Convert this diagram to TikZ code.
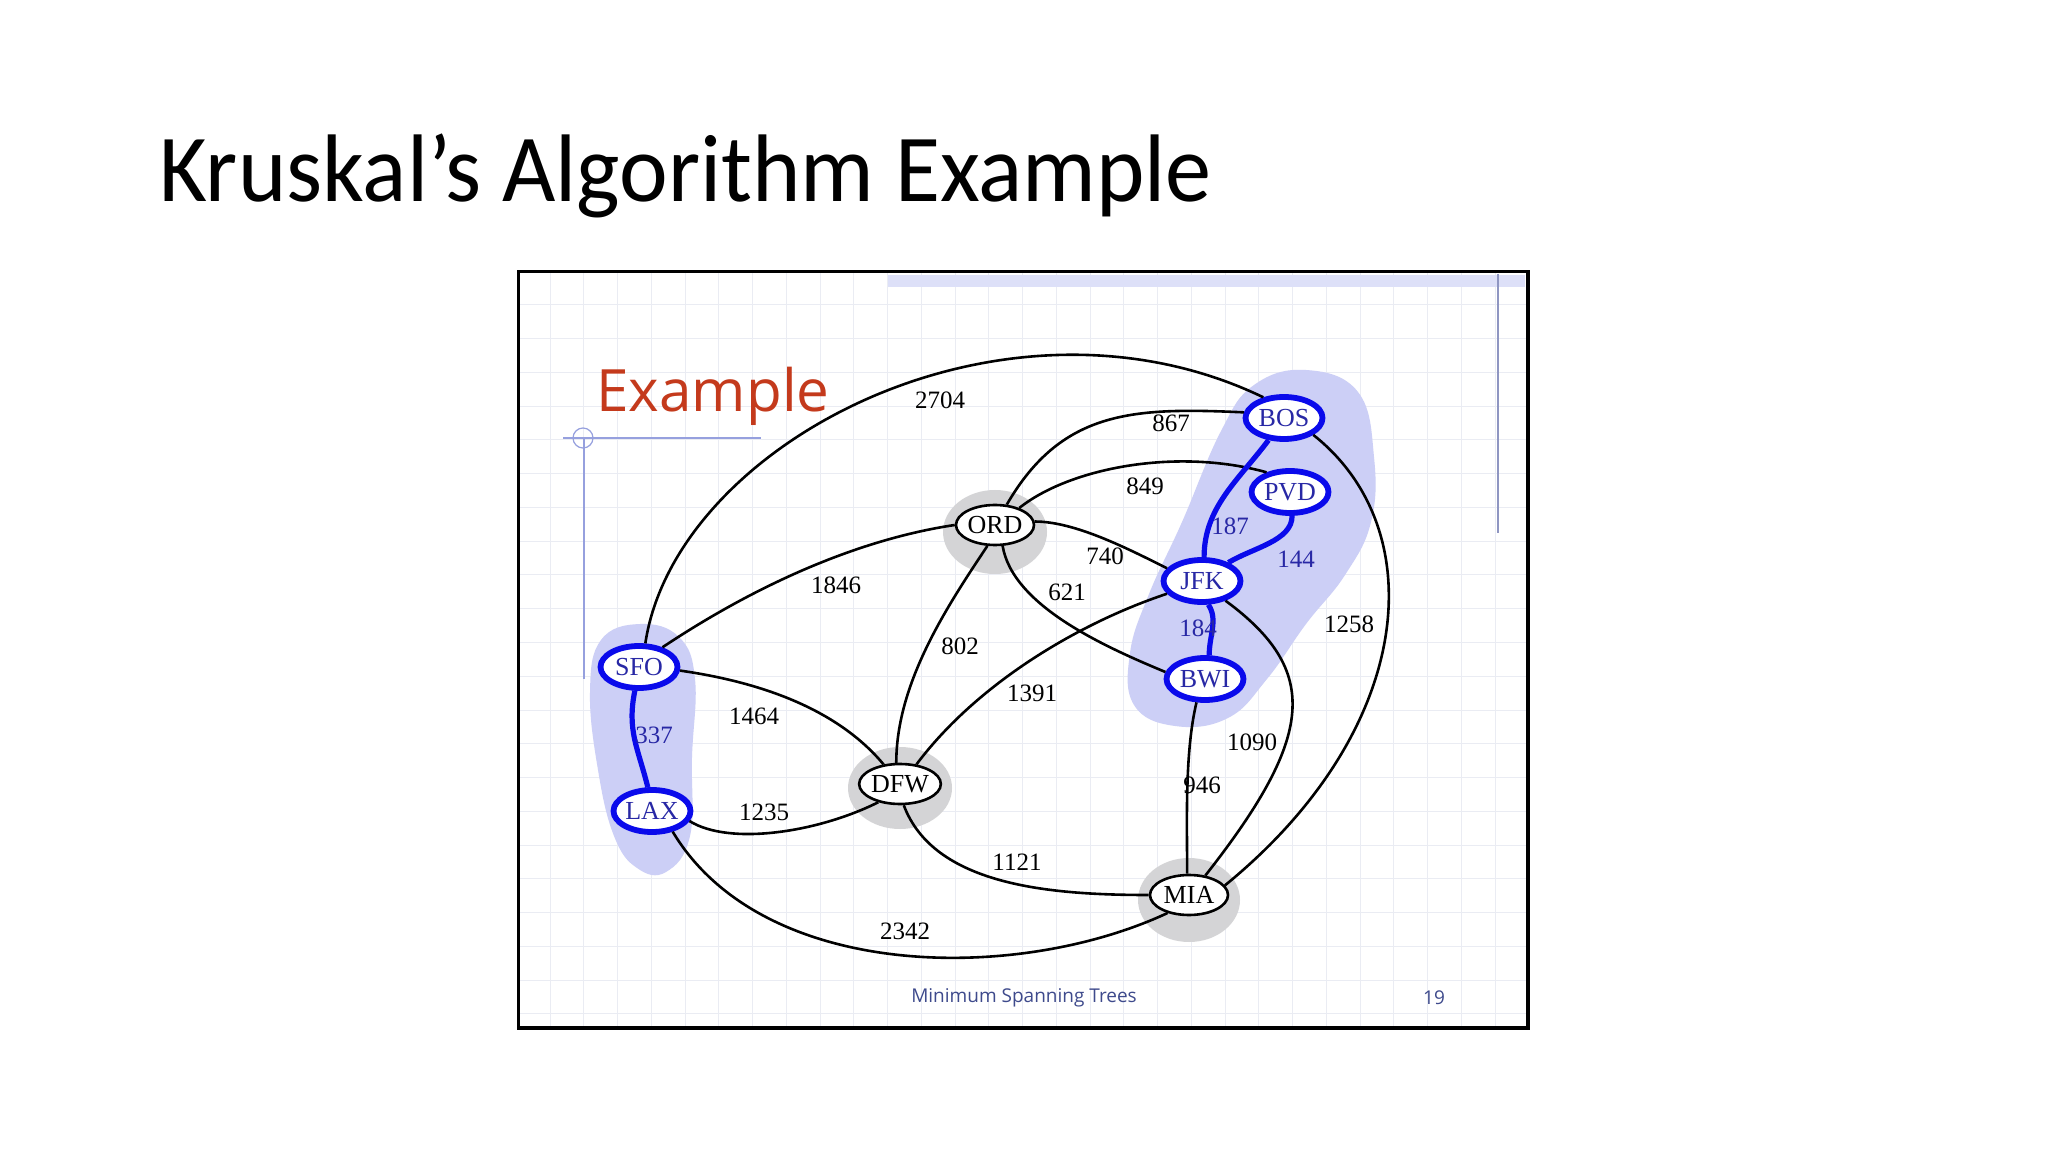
\documentclass[tikz,border=0pt]{standalone}
\usepackage{fontspec}
\setmainfont{Liberation Serif}
\newfontfamily\titlefont{Carlito}
\newfontfamily\slidefont{Open Sans}
\usetikzlibrary{shapes.geometric}

\definecolor{treeblue}{RGB}{10,10,235}
\definecolor{treetext}{RGB}{40,40,165}
\definecolor{cloudblue}{RGB}{204,207,246}
\definecolor{halogray}{RGB}{212,212,214}
\definecolor{examplered}{RGB}{196,58,28}
\definecolor{gridline}{RGB}{234,236,243}
\definecolor{footblue}{RGB}{62,74,140}
\definecolor{barblue}{RGB}{221,224,248}
\definecolor{guideblue}{RGB}{150,160,222}

\begin{document}
\begin{tikzpicture}[x=0.5pt,y=0.5pt,
			city/.style={
				ellipse,
				draw,
				line width=1.3pt,
				fill=white,
				minimum width=39pt,
				minimum height=20pt,
				inner sep=0pt,
				font=\fontsize{13}{13}\selectfont},
			tree/.style={
				city,
				draw=treeblue,
				line width=2.9pt,
				text=treetext,
				minimum width=38.5pt,
				minimum height=21pt},
			road/.style={line width=1.3pt},
			treeroad/.style={line width=2.6pt, draw=treeblue},
			weight/.style={font=\fontsize{12.5}{12.5}\selectfont},
			treeweight/.style={weight, text=treetext}]
			
			\useasboundingbox (0,0) rectangle (2048,1152);
			\fill[white] (0,0) rectangle (2048,1152);
			
			\node[anchor=base west, inner sep=0pt, font=\titlefont\fontsize{48}{48}\selectfont] (title) at (159,950) {\scalebox{0.96}[1]{Kruskal’s Algorithm Example}};
			
			% slide grid
			\foreach \gx in {0,...,29}
			\draw[gridline, line width=0.5pt] (550+\gx*33.75,125) -- (550+\gx*33.75,879);
			\foreach \gy in {0,...,21}
			\draw[gridline, line width=0.5pt] (520,847-\gy*33.75) -- (1527,847-\gy*33.75);
			
			\fill[barblue] (888,865) rectangle (1525,877);
			\draw[guideblue!70!gray, line width=0.8pt] (1498,878) -- (1498,619);
			\draw[guideblue, line width=0.6pt] (563,714) -- (761,714);
			\draw[guideblue, line width=0.6pt] (584,714) -- (584,473);
			\draw[guideblue, line width=0.6pt] (583,714) circle (10);
			
			\node[anchor=base west, inner sep=0pt, text=examplered, font=\slidefont\fontsize{29.2}{29.2}\selectfont] (example) at (596,740) {Example};
			
			% clusters
			\fill[cloudblue] plot[smooth cycle, tension=0.7] coordinates {(1306,782) (1358,760) (1374,695) (1371,630) (1345,577) (1306,528) (1267,473) (1228,434) (1175,426) (1134,447) (1130,499) (1149,558) (1182,630) (1221,721) (1254,767)};
			\fill[cloudblue] plot[smooth cycle, tension=0.7] coordinates {(640,528) (679,515) (695,473) (692,395) (690,316) (666,280) (637,284) (614,316) (598,382) (590,460) (601,512)};
			\fill[halogray] (995,620) ellipse [x radius=52, y radius=42];
			\fill[halogray] (900,364) ellipse [x radius=52, y radius=41];
			\fill[halogray] (1189,252) ellipse [x radius=51, y radius=42];
			
			% airports
			\node[tree] (bos) at (1284,734) {BOS};
			\node[tree] (pvd) at (1290,660) {PVD};
			\node[tree] (jfk) at (1202,571) {JFK};
			\node[tree] (bwi) at (1205,473) {BWI};
			\node[city] (ord) at (995,627) {ORD};
			\node[tree] (sfo) at (639,485) {SFO};
			\node[tree] (lax) at (652,341) {LAX};
			\node[city] (dfw) at (900,368) {DFW};
			\node[city] (mia) at (1189,257) {MIA};
			
			% flights
			\draw[road] (sfo.75) .. controls +(30,200) and +(-260,125) .. (bos.135);
			\draw[road] (ord.60) .. controls +(55,95) and +(-110,5) .. (bos.172);
			\draw[road] (ord.35) .. controls +(50,40) and +(-90,25) .. (pvd.140);
			\draw[road] (ord.5) .. controls +(40,0) and +(-40,20) .. (jfk.160);
			\draw[road] (ord.-70) .. controls +(10,-60) and +(-60,25) .. (bwi.170);
			\draw[road] (sfo.40) .. controls +(90,60) and +(-100,-15) .. (ord.180);
			\draw[road] (ord.-110) .. controls +(-40,-60) and +(0,80) .. (dfw.100);
			\draw[road] (jfk.-160) .. controls +(-90,-30) and +(60,80) .. (dfw.50);
			\draw[road] (sfo.-5) .. controls +(70,-10) and +(-50,60) .. (dfw.130);
			\draw[road] (lax.-15) .. controls +(40,-25) and +(-60,-30) .. (dfw.-140);
			\draw[road] (lax.-45) .. controls +(90,-150) and +(-150,-70) .. (mia.-140);
			\draw[road] (dfw.-80) .. controls +(30,-80) and +(-100,0) .. (mia.180);
			\draw[road] (bwi.-110) .. controls +(-12,-50) and +(0,50) .. (mia.95);
			\draw[road] (jfk.-40) .. controls +(95,-70) and +(110,140) .. (mia.50);
			\draw[road] (bos.-30) .. controls +(120,-95) and +(190,155) .. (mia.15);
			
			\draw[treeroad] (sfo.-100) .. controls +(-8,-40) and +(-10,40) .. (lax.100);
			\draw[treeroad] (bos.-125) .. controls +(-30,-40) and +(0,50) .. (jfk.85);
			\draw[treeroad] (pvd.-85) .. controls +(0,-25) and +(25,15) .. (jfk.35);
			\draw[treeroad] (jfk.-75) .. controls +(10,-15) and +(0,20) .. (bwi.80);
			
			% distances
			\node[weight] (w2704) at (940,752) {2704};
			\node[weight] (w867) at (1171,729) {867};
			\node[weight] (w849) at (1145,666) {849};
			\node[weight] (w740) at (1105,596) {740};
			\node[weight] (w621) at (1067,560) {621};
			\node[weight] (w1846) at (836,567) {1846};
			\node[weight] (w802) at (960,506) {802};
			\node[weight] (w1391) at (1032,459) {1391};
			\node[weight] (w1464) at (754,436) {1464};
			\node[weight] (w1235) at (764,340) {1235};
			\node[weight] (w2342) at (905,221) {2342};
			\node[weight] (w1121) at (1017,290) {1121};
			\node[weight] (w946) at (1202,367) {946};
			\node[weight] (w1090) at (1252,410) {1090};
			\node[weight] (w1258) at (1349,528) {1258};
			\node[treeweight] (w337) at (654,417) {337};
			\node[treeweight] (w187) at (1230,626) {187};
			\node[treeweight] (w144) at (1296,593) {144};
			\node[treeweight] (w184) at (1198,524) {184};
			
			\node[text=footblue, font=\slidefont\fontsize{9.5}{9.5}\selectfont] (footer) at (1024,154) {Minimum Spanning Trees};
			\node[text=footblue, font=\slidefont\fontsize{9.5}{9.5}\selectfont] (page) at (1434,154) {19};
			
			\draw[line width=1.8pt] (518.5,880.4) rectangle (1528,124.2);
			
		\end{tikzpicture}
\end{document}
